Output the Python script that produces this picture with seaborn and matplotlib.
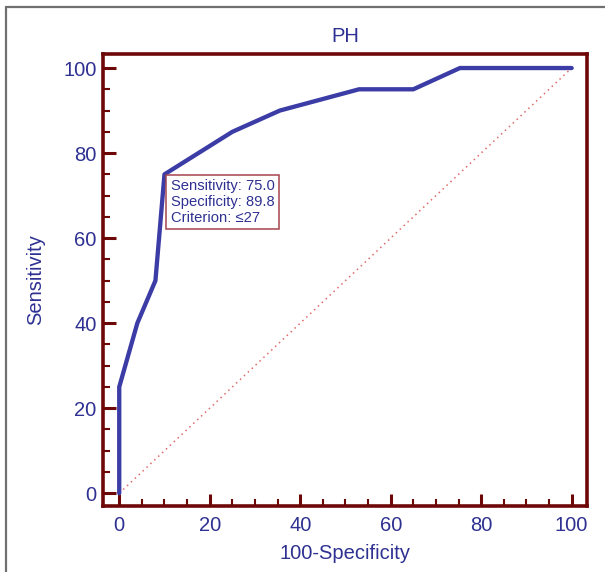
import numpy as np
import pandas as pd
import matplotlib
matplotlib.use("Agg")
import matplotlib.pyplot as plt
from matplotlib.lines import Line2D
from matplotlib.ticker import MultipleLocator
import seaborn as sns

# ---- data ----
fpr = [0, 0, 4, 8, 10, 25, 35.5, 53, 65, 75.3, 100]        # 100-Specificity
tpr = [0, 25, 40, 50, 75, 85, 90, 95, 95, 100, 100]        # Sensitivity
diag_x = [0, 100]
diag_y = [0, 100]
x_ticks = [0, 20, 40, 60, 80, 100]
y_ticks = [0, 20, 40, 60, 80, 100]
title = "PH"
x_label = "100-Specificity"
y_label = "Sensitivity"
box_lines = ["Sensitivity: 75.0", "Specificity: 89.8", "Criterion: \u226427"]
box_anchor = (10.4, 74.8)

# ---- style ----
sns.set_style("white")
plt.rcParams['font.family'] = ['Liberation Sans', 'DejaVu Sans']

BLUE_TXT = "#2e3192"
BLUE_LINE = "#3b3ca6"
MAROON = "#6e0808"
BOX_EC = "#a4444c"
DIAG = "#e06a6a"

W, H = 605, 572
fig = plt.figure(figsize=(W / 100, H / 100), dpi=100)
fig.patch.set_facecolor("white")

ax = fig.add_axes([103.4 / W, 1 - 506 / H, (586.6 - 103.4) / W, (506 - 54) / H])

df = pd.DataFrame({"fpr": fpr, "tpr": tpr})
dd = pd.DataFrame({"x": diag_x, "y": diag_y})
sns.lineplot(data=dd, x="x", y="y", ax=ax, color=DIAG, linewidth=1.1,
             linestyle=(0, (1, 2.5)), zorder=2)
sns.lineplot(data=df, x="fpr", y="tpr", ax=ax, sort=False, estimator=None,
             color=BLUE_LINE, linewidth=3.1, zorder=3)

ax.set_xlim(-3.5, 103.3)
ax.set_ylim(-3.0, 103.3)
ax.set_xticks(x_ticks)
ax.set_yticks(y_ticks)
ax.xaxis.set_minor_locator(MultipleLocator(5))
ax.yaxis.set_minor_locator(MultipleLocator(5))

for s in ax.spines.values():
    s.set_color(MAROON)
    s.set_linewidth(2.6)
    s.set_visible(True)

ax.tick_params(which="major", direction="in", length=9, width=2.2,
               color=MAROON, labelcolor=BLUE_TXT, labelsize=14.5,
               bottom=True, left=True, top=False, right=False)
ax.tick_params(axis="x", which="major", pad=7)
ax.tick_params(axis="y", which="major", pad=5)
ax.tick_params(which="minor", direction="in", length=5, width=1.5,
               color=MAROON, bottom=True, left=True, top=False, right=False)

ax.set_title(title, color=BLUE_TXT, fontsize=14.5, pad=9)
ax.set_xlabel(x_label, color=BLUE_TXT, fontsize=14.5, labelpad=7)
ax.set_ylabel(y_label, color=BLUE_TXT, fontsize=14.5, labelpad=13)

ax.text(box_anchor[0] + 0.95, box_anchor[1] - 1.0, "\n".join(box_lines),
        ha="left", va="top", fontsize=10.6, color=BLUE_TXT, linespacing=1.15,
        zorder=5,
        bbox=dict(boxstyle="square,pad=0.3", fc="white", ec=BOX_EC, lw=1.1))

# outer frame (top and left visible)
fig.add_artist(Line2D([6 / W, 1.0], [1 - 7 / H, 1 - 7 / H], transform=fig.transFigure,
                      color="#707070", linewidth=1.6))
fig.add_artist(Line2D([6 / W, 6 / W], [0, 1 - 7 / H], transform=fig.transFigure,
                      color="#707070", linewidth=1.6))

fig.savefig("out.png", dpi=100, facecolor="white")
